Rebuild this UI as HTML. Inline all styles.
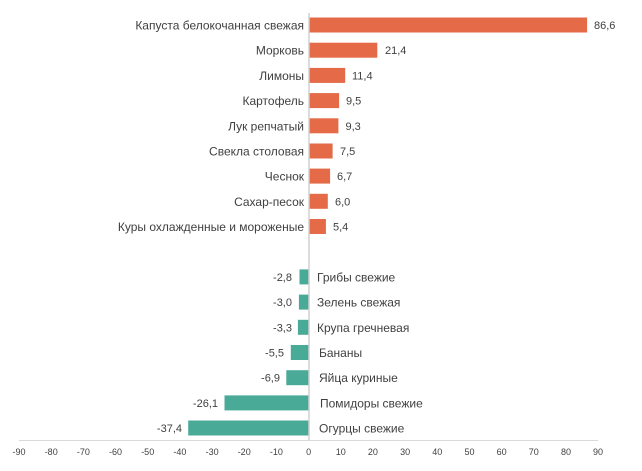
<!DOCTYPE html>
<html><head><meta charset="utf-8"><style>
html,body{margin:0;padding:0;background:#fff}
svg{display:block}
text{font-family:"Liberation Sans",sans-serif;fill:#404040}
</style></head><body>
<svg width="642" height="471" xmlns="http://www.w3.org/2000/svg">
<g fill="#E46A48">
<rect x="309" y="17.5" width="278.1" height="15"/>
<rect x="309" y="42.7" width="68.3" height="15"/>
<rect x="309" y="67.9" width="36.2" height="15"/>
<rect x="309" y="93.1" width="30.1" height="15"/>
<rect x="309" y="118.3" width="29.4" height="15"/>
<rect x="309" y="143.5" width="23.6" height="15"/>
<rect x="309" y="168.6" width="21.1" height="15"/>
<rect x="309" y="193.8" width="18.8" height="15"/>
<rect x="309" y="219" width="16.9" height="15"/>
</g>
<g fill="#4AAA98">
<rect x="299.5" y="269.4" width="9.5" height="15"/>
<rect x="298.9" y="294.6" width="10.1" height="15"/>
<rect x="297.9" y="319.8" width="11.1" height="15"/>
<rect x="290.8" y="345" width="18.2" height="15"/>
<rect x="286.3" y="370.2" width="22.7" height="15"/>
<rect x="224.5" y="395.4" width="84.5" height="15"/>
<rect x="188.2" y="420.5" width="120.8" height="15"/>
</g>
<line x1="309" y1="13" x2="309" y2="441" stroke="#d0d0d0" stroke-width="1.5"/>
<line x1="19" y1="440.5" x2="598" y2="440.5" stroke="#d9d9d9" stroke-width="1"/>
<g font-size="12" text-anchor="end">
<text x="304" y="29.5">Капуста белокочанная свежая</text>
<text x="304" y="54.7">Морковь</text>
<text x="304" y="79.9">Лимоны</text>
<text x="304" y="105.1">Картофель</text>
<text x="304" y="130.3">Лук репчатый</text>
<text x="304" y="155.5">Свекла столовая</text>
<text x="304" y="180.6">Чеснок</text>
<text x="304" y="205.8">Сахар-песок</text>
<text x="304" y="231">Куры охлажденные и мороженые</text>
</g>
<g font-size="11">
<text x="594" y="29">86,6</text>
<text x="385" y="54.2">21,4</text>
<text x="352" y="79.4">11,4</text>
<text x="346" y="104.6">9,5</text>
<text x="345.5" y="129.8">9,3</text>
<text x="340" y="155">7,5</text>
<text x="337" y="180.1">6,7</text>
<text x="335" y="205.3">6,0</text>
<text x="333" y="230.5">5,4</text>
</g>
<g font-size="12">
<text x="317" y="281.4">Грибы свежие</text>
<text x="317" y="306.6">Зелень свежая</text>
<text x="317" y="331.8">Крупа гречневая</text>
<text x="319" y="357">Бананы</text>
<text x="319" y="382.2">Яйца куриные</text>
<text x="320" y="407.4">Помидоры свежие</text>
<text x="319" y="432.5">Огурцы свежие</text>
</g>
<g font-size="11" text-anchor="end">
<text x="292" y="280.9">-2,8</text>
<text x="292" y="306.1">-3,0</text>
<text x="292" y="331.3">-3,3</text>
<text x="284" y="356.5">-5,5</text>
<text x="280" y="381.7">-6,9</text>
<text x="218" y="406.9">-26,1</text>
<text x="182" y="432">-37,4</text>
</g>
<g font-size="9" text-anchor="middle">
<text x="19" y="455">-90</text><text x="51.2" y="455">-80</text><text x="83.4" y="455">-70</text>
<text x="115.5" y="455">-60</text><text x="147.7" y="455">-50</text><text x="179.9" y="455">-40</text>
<text x="212.1" y="455">-30</text><text x="244.2" y="455">-20</text><text x="276.4" y="455">-10</text>
<text x="308.6" y="455">0</text><text x="340.8" y="455">10</text><text x="372.9" y="455">20</text>
<text x="405.1" y="455">30</text><text x="437.3" y="455">40</text><text x="469.5" y="455">50</text>
<text x="501.6" y="455">60</text><text x="533.8" y="455">70</text><text x="566" y="455">80</text>
<text x="598" y="455">90</text>
</g>
</svg>
</body></html>
